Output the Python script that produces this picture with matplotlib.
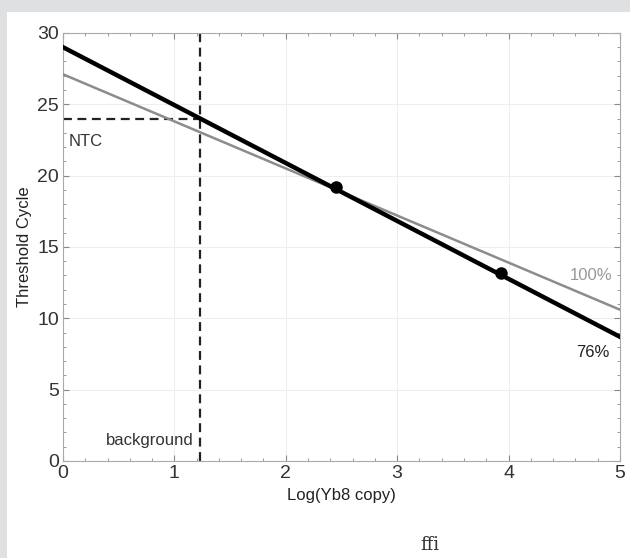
import matplotlib.pyplot as plt
from matplotlib.patches import Rectangle
from matplotlib.ticker import MultipleLocator

plt.rcParams['font.family'] = ['Liberation Sans Narrow', 'Liberation Sans', 'DejaVu Sans']

# fitted lines (endpoints at x = 0 and x = 5)
fit_x = [0, 5]
eff76_y = [29.0, 8.7]
eff100_y = [27.1, 10.6]

# measured points
pts_x = [2.45, 3.93]
pts_y = [19.2, 13.2]

# background cut-off
bg_x = 1.23
ntc_y = 24.0

fig = plt.figure(figsize=(6.3, 5.58), dpi=100)
fig.patch.set_facecolor('#dfe0e2')
fig.patches.append(Rectangle((7 / 630, 0), 1, (558 - 12) / 558,
                             transform=fig.transFigure, facecolor='white',
                             edgecolor='none', zorder=-10))

ax = fig.add_axes([0.1, 0.174, 0.884, 0.767])
ax.set_facecolor('white')

ax.plot(fit_x, eff100_y, color='#8c8c8c', lw=1.8, zorder=3)
ax.plot(fit_x, eff76_y, color='black', lw=3.2, zorder=4)
ax.plot(pts_x, pts_y, 'o', color='black', ms=8, zorder=5)

ax.plot([bg_x, bg_x], [0, 30], '--', color='#222222', lw=1.6, dashes=(4, 2.5), zorder=2)
ax.plot([0, bg_x], [ntc_y, ntc_y], '--', color='#222222', lw=1.6, dashes=(4, 2.5), zorder=2)

ax.text(0.05, 22.4, 'NTC', fontsize=12, color='#333333', va='center')
ax.text(1.17, 1.4, 'background', fontsize=12, color='#333333', ha='right', va='center')
ax.text(4.93, 13.0, '100%', fontsize=12, color='#999999', ha='right', va='center')
ax.text(4.91, 7.6, '76%', fontsize=12, color='#222222', ha='right', va='center')

ax.set_xlim(0, 5)
ax.set_ylim(0, 30)
ax.xaxis.set_major_locator(MultipleLocator(1))
ax.xaxis.set_minor_locator(MultipleLocator(0.2))
ax.yaxis.set_major_locator(MultipleLocator(5))
ax.yaxis.set_minor_locator(MultipleLocator(1))
ax.tick_params(which='both', direction='in', top=True, right=True, color='#888888',
               labelsize=14, labelcolor='#333333')
ax.tick_params(which='major', length=4, pad=3)
ax.tick_params(which='minor', length=2)
ax.grid(True, which='major', color='#eeeeee', lw=0.8)
for s in ax.spines.values():
    s.set_color('#aaaaaa')

ax.set_xlabel('Log(Yb8 copy)', fontsize=12, color='#222222', labelpad=4)
ax.set_ylabel('Threshold Cycle', fontsize=12, color='#222222')

fig.text(430 / 630, 1 - 545 / 558, 'ffi', fontsize=13, family='serif', color='#333333',
         ha='center', va='center')

fig.savefig('out.png', dpi=100, facecolor=fig.get_facecolor())
